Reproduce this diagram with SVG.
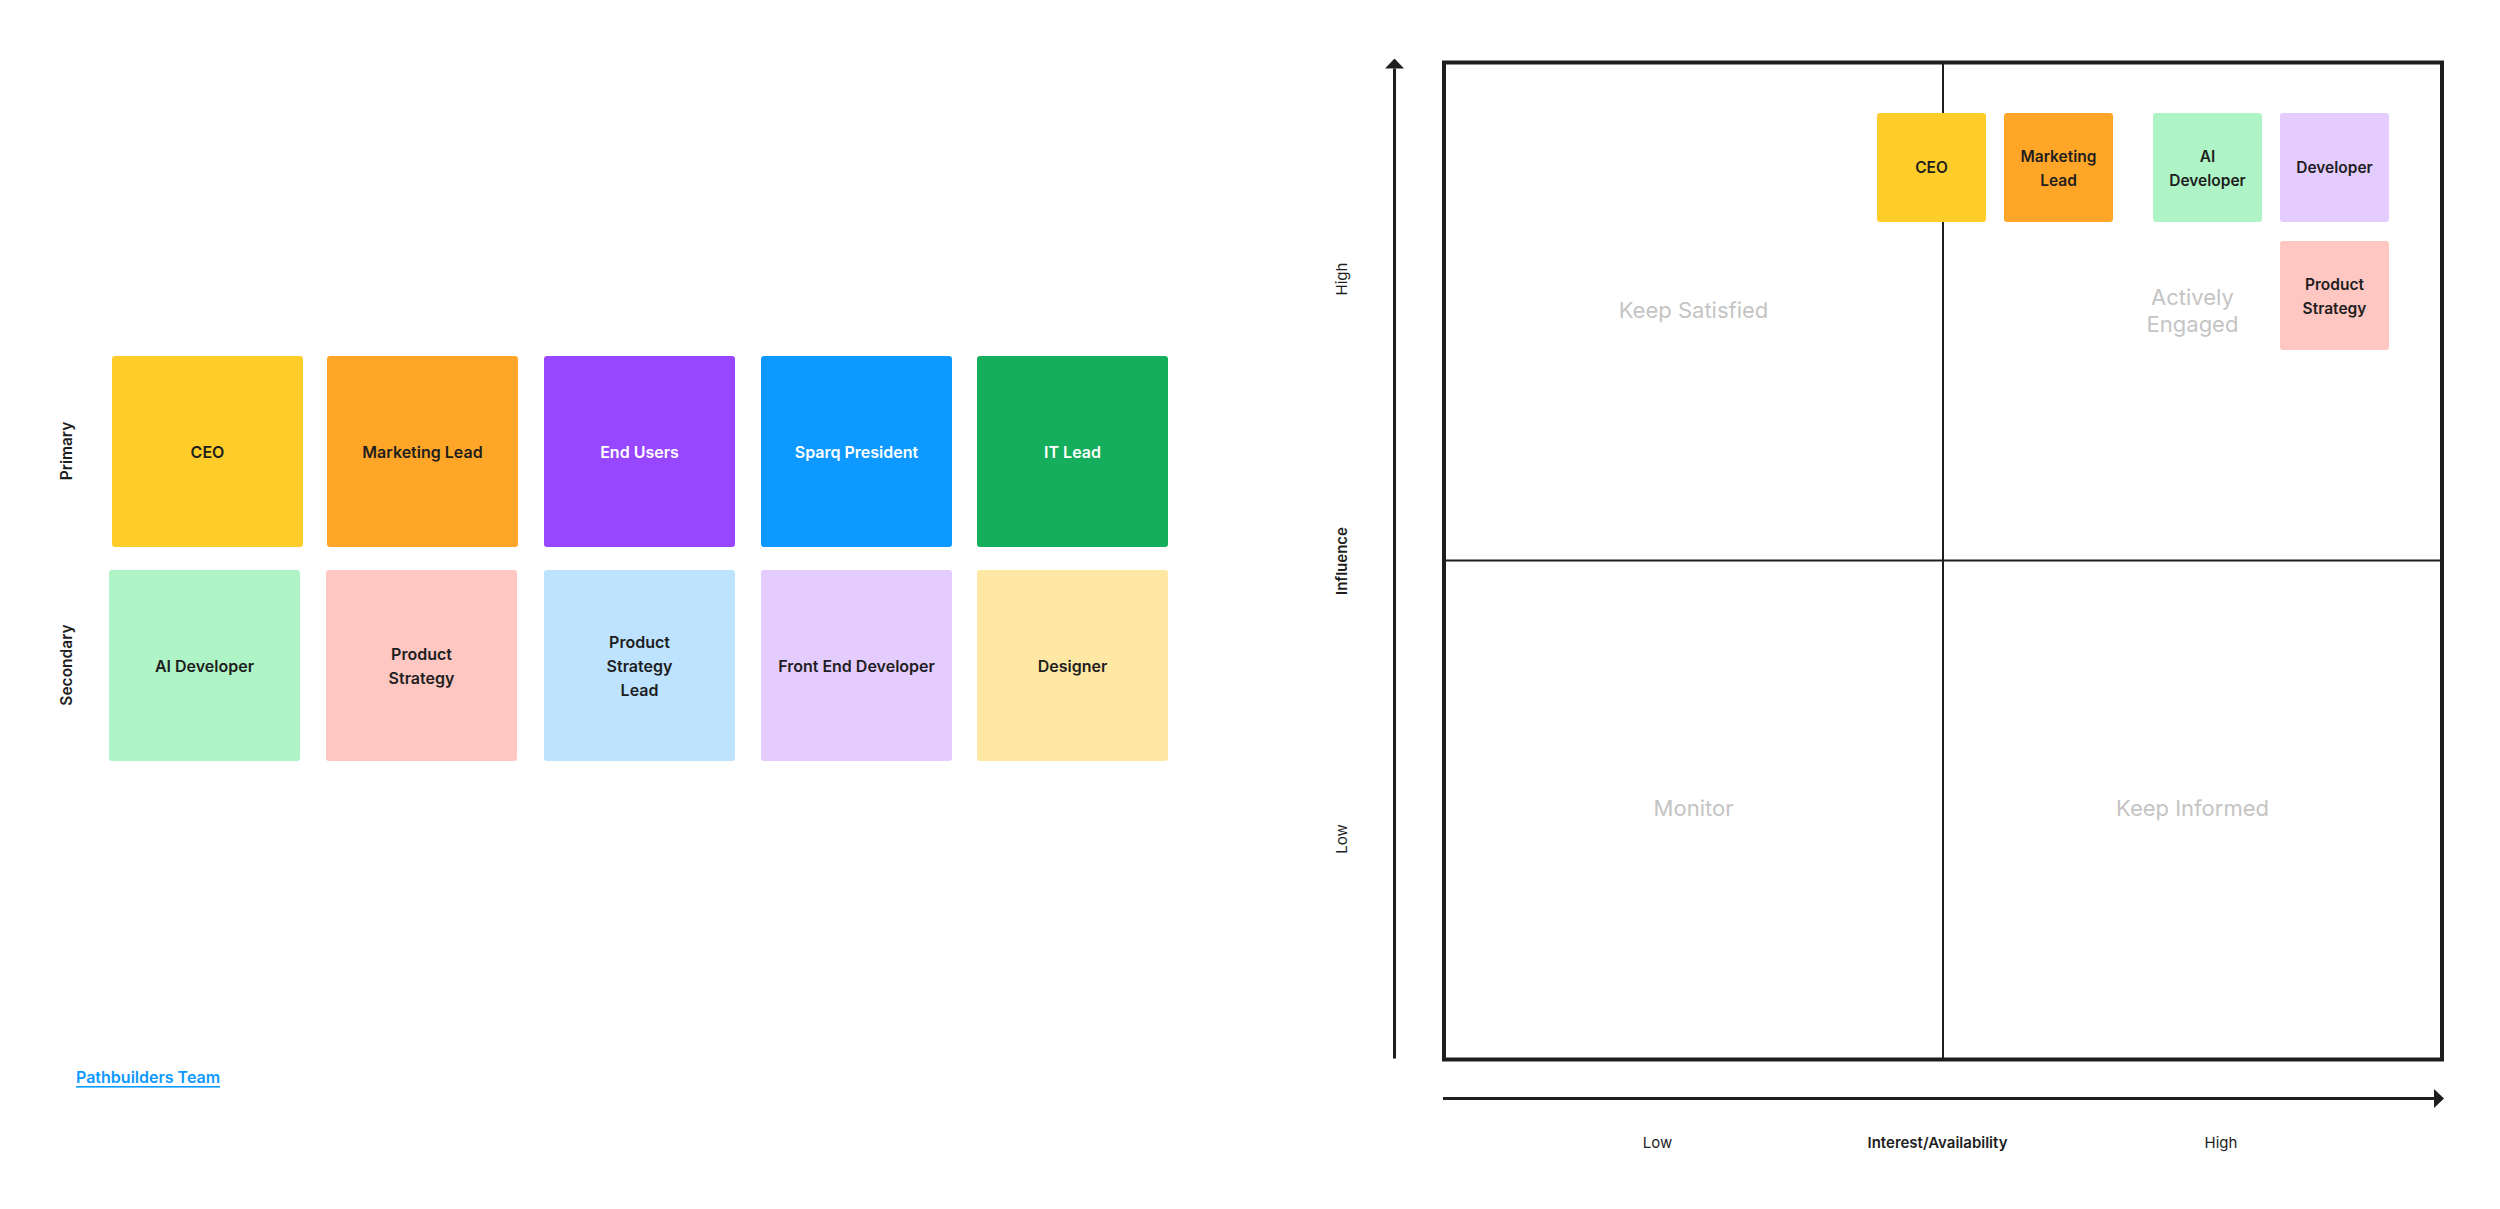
<svg xmlns="http://www.w3.org/2000/svg" width="2500" height="1209" viewBox="0 0 2500 1209">
<defs>
<style>
text{font-family:"Inter","Liberation Sans",sans-serif;}
.lbl{font-size:16px;font-weight:600;fill:#1e1e1e;text-anchor:middle;}
.wl{font-size:16px;font-weight:600;fill:#ffffff;text-anchor:middle;}
.sl{font-size:15.5px;font-weight:600;fill:#1e1e1e;text-anchor:middle;}
.row{font-size:15.5px;font-weight:600;fill:#1e1e1e;text-anchor:middle;}
.quad{font-size:22px;font-weight:400;fill:#c4c4c4;text-anchor:middle;}
.ax{font-size:15px;font-weight:400;fill:#1e1e1e;text-anchor:middle;}
.axb{font-size:15px;font-weight:600;fill:#1e1e1e;text-anchor:middle;}
.frame{fill:none;stroke:#1e1e1e;stroke-width:4;}
.mid{stroke:#1e1e1e;stroke-width:2;}
.axis{stroke:#1e1e1e;stroke-width:3;fill:none;}
</style>
<marker id="arr" viewBox="0 0 10 19" markerUnits="userSpaceOnUse" markerWidth="10" markerHeight="19" refX="0" refY="9.5" orient="auto">
<path d="M0,0 L10,9.5 L0,19 z" fill="#1e1e1e"/>
</marker>
</defs>
<rect width="2500" height="1209" fill="#ffffff"/>

<!-- Row labels -->
<text class="row" transform="translate(72,451) rotate(-90)">Primary</text>
<text class="row" transform="translate(72,665) rotate(-90)">Secondary</text>

<!-- Primary stakeholders -->
<g id="p-ceo"><rect x="112" y="356" width="191" height="191" rx="3" fill="#FFCD29"/><text class="lbl" x="207.5" y="457.5">CEO</text></g>
<g id="p-marketing"><rect x="327" y="356" width="191" height="191" rx="3" fill="#FFA629"/><text class="lbl" x="422.5" y="457.5">Marketing Lead</text></g>
<g id="p-endusers"><rect x="544" y="356" width="191" height="191" rx="3" fill="#9747FF"/><text class="wl" x="639.5" y="457.5">End Users</text></g>
<g id="p-sparq"><rect x="761" y="356" width="191" height="191" rx="3" fill="#0D99FF"/><text class="wl" x="856.5" y="457.5">Sparq President</text></g>
<g id="p-it"><rect x="977" y="356" width="191" height="191" rx="3" fill="#14AE5C"/><text class="wl" x="1072.5" y="457.5">IT Lead</text></g>

<!-- Secondary stakeholders -->
<g id="s-aidev"><rect x="109" y="570" width="191" height="191" rx="3" fill="#AFF4C6"/><text class="lbl" x="204.5" y="671.5">AI Developer</text></g>
<g id="s-product"><rect x="326" y="570" width="191" height="191" rx="3" fill="#FFC7C2"/><text class="lbl" x="421.5" y="660">Product</text><text class="lbl" x="421.5" y="684">Strategy</text></g>
<g id="s-psl"><rect x="544" y="570" width="191" height="191" rx="3" fill="#BDE3FF"/><text class="lbl" x="639.5" y="648">Product</text><text class="lbl" x="639.5" y="672">Strategy</text><text class="lbl" x="639.5" y="696">Lead</text></g>
<g id="s-fed"><rect x="761" y="570" width="191" height="191" rx="3" fill="#E4CCFF"/><text class="lbl" x="856.5" y="671.5">Front End Developer</text></g>
<g id="s-designer"><rect x="977" y="570" width="191" height="191" rx="3" fill="#FFE8A3"/><text class="lbl" x="1072.5" y="671.5">Designer</text></g>

<!-- Link -->
<g id="link">
<text x="76" y="1083" style="font-size:16px;font-weight:600;fill:#0D99FF;">Pathbuilders Team</text>
<rect x="76" y="1086" width="144" height="1.6" fill="#0D99FF"/>
</g>

<!-- Matrix -->
<g id="matrix">
<rect class="frame" x="1444" y="62.5" width="998" height="997"/>
<line class="mid" x1="1943" y1="62.5" x2="1943" y2="1059.5"/>
<line class="mid" x1="1444" y1="560.5" x2="2442" y2="560.5"/>
<text class="quad" x="1693.5" y="318">Keep Satisfied</text>
<text class="quad" x="2192.5" y="304.5">Actively</text>
<text class="quad" x="2192.5" y="331.5">Engaged</text>
<text class="quad" x="1693.5" y="816">Monitor</text>
<text class="quad" x="2192.5" y="816">Keep Informed</text>
</g>

<!-- Axes -->
<g id="connectors">
<line class="axis" x1="1394.5" y1="1058.5" x2="1394.5" y2="68.5" marker-end="url(#arr)"/>
<line class="axis" x1="1443" y1="1098.5" x2="2434" y2="1098.5" marker-end="url(#arr)"/>
</g>
<g id="axis-labels">
<text class="ax" transform="translate(1347,279) rotate(-90)">High</text>
<text class="axb" transform="translate(1347,561) rotate(-90)">Influence</text>
<text class="ax" transform="translate(1347,839) rotate(-90)">Low</text>
<text class="ax" x="1657.5" y="1147.5">Low</text>
<text class="axb" x="1937.5" y="1147.5">Interest/Availability</text>
<text class="ax" x="2221" y="1147.5">High</text>
</g>

<!-- Matrix stickies -->
<g id="m-ceo"><rect x="1877" y="113" width="109" height="109" rx="3" fill="#FFCD29"/><text class="sl" x="1931.5" y="173">CEO</text></g>
<g id="m-marketing"><rect x="2004" y="113" width="109" height="109" rx="3" fill="#FFA629"/><text class="sl" x="2058.5" y="161.5">Marketing</text><text class="sl" x="2058.5" y="185.5">Lead</text></g>
<g id="m-aidev"><rect x="2153" y="113" width="109" height="109" rx="3" fill="#AFF4C6"/><text class="sl" x="2207.5" y="161.5">AI</text><text class="sl" x="2207.5" y="185.5">Developer</text></g>
<g id="m-developer"><rect x="2280" y="113" width="109" height="109" rx="3" fill="#E4CCFF"/><text class="sl" x="2334.5" y="173">Developer</text></g>
<g id="m-product"><rect x="2280" y="241" width="109" height="109" rx="3" fill="#FFC7C2"/><text class="sl" x="2334.5" y="289.5">Product</text><text class="sl" x="2334.5" y="313.5">Strategy</text></g>
</svg>
